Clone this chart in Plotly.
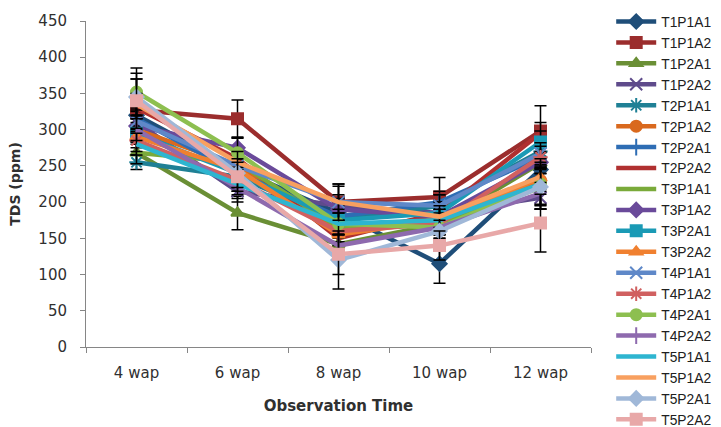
import plotly.graph_objects as go

categories = ["4 wap", "6 wap", "8 wap", "10 wap", "12 wap"]

series_names = ["T1P1A1", "T1P1A2", "T1P2A1", "T1P2A2", "T2P1A1", "T2P1A2", "T2P2A1", "T2P2A2",
                "T3P1A1", "T3P1A2", "T3P2A1", "T3P2A2", "T4P1A1", "T4P1A2", "T4P2A1", "T4P2A2",
                "T5P1A1", "T5P1A2", "T5P2A1", "T5P2A2"]

T1P1A1 = [320, 245, 185, 115, 245]
T1P1A2 = [327, 315, 200, 207, 298]
T1P2A1 = [268, 185, 142, 170, 254]
T1P2A2 = [310, 215, 195, 185, 206]
T2P1A1 = [255, 235, 175, 195, 270]
T2P1A2 = [300, 250, 160, 180, 230]
T2P2A1 = [315, 240, 180, 200, 262]
T2P2A2 = [330, 260, 150, 185, 295]
T3P1A1 = [268, 255, 165, 170, 220]
T3P1A2 = [305, 275, 190, 180, 255]
T3P2A1 = [295, 240, 175, 185, 283]
T3P2A2 = [290, 245, 155, 175, 233]
T4P1A1 = [312, 250, 200, 195, 267]
T4P1A2 = [285, 230, 160, 170, 262]
T4P2A1 = [352, 268, 170, 165, 225]
T4P2A2 = [300, 220, 140, 165, 212]
T5P1A1 = [280, 225, 170, 175, 225]
T5P1A2 = [335, 255, 200, 180, 235]
T5P2A1 = [345, 240, 120, 160, 221]
T5P2A2 = [340, 235, 128, 140, 171]

values = [T1P1A1, T1P1A2, T1P2A1, T1P2A2, T2P1A1, T2P1A2, T2P2A1, T2P2A2,
          T3P1A1, T3P1A2, T3P2A1, T3P2A2, T4P1A1, T4P1A2, T4P2A1, T4P2A2,
          T5P1A1, T5P1A2, T5P2A1, T5P2A2]

errors = [
    [20, 15, 15, 27, 15],
    [43, 26, 22, 27, 35],
    [15, 23, 15, 15, 15],
    [15, 15, 15, 15, 15],
    [10, 15, 15, 15, 15],
    [15, 15, 15, 15, 15],
    [15, 15, 15, 15, 15],
    [15, 15, 15, 15, 15],
    [15, 15, 15, 15, 30],
    [15, 15, 15, 15, 15],
    [15, 15, 15, 15, 15],
    [15, 15, 15, 15, 15],
    [15, 15, 25, 15, 15],
    [15, 15, 15, 15, 15],
    [33, 20, 15, 15, 35],
    [15, 15, 15, 15, 15],
    [15, 15, 15, 15, 30],
    [15, 15, 25, 15, 15],
    [25, 20, 40, 15, 25],
    [38, 20, 28, 20, 40],
]

colors = ["#1F4E79", "#9B2D2D", "#6A8F35", "#5F4B8B", "#1F8095", "#D9691E", "#2E6DB4", "#B03030",
          "#7AAA3A", "#6A4A9A", "#1A9AB5", "#F08030", "#5F88C8", "#D06060", "#8DBF50", "#8E6AAE",
          "#2EB5D0", "#F8A060", "#A0B8D8", "#E8A8A8"]

symbols = ["diamond", "square", "triangle-up", "x-thin", "asterisk", "circle", "line-ns", None,
           None, "diamond", "square", "triangle-up", "x-thin", "asterisk", "circle", "line-ns",
           None, None, "diamond", "square"]

fig = go.Figure()
for name, vals, err, col, sym in zip(series_names, values, errors, colors, symbols):
    marker = dict(color=col, size=11, line=dict(color=col, width=2))
    if sym is None:
        mode = "lines"
    else:
        mode = "lines+markers"
        marker["symbol"] = sym
        if sym in ("x-thin", "asterisk", "line-ns"):
            marker["size"] = 12
            marker["line"] = dict(color=col, width=2)
    fig.add_trace(go.Scatter(
        x=categories, y=vals, name=name, mode=mode,
        line=dict(color=col, width=4.5),
        marker=marker,
        error_y=dict(type="data", array=err, visible=True, color="black", thickness=1.5, width=6),
    ))

fig.update_layout(
    width=721, height=427,
    margin=dict(l=86, r=130, t=21, b=80, autoexpand=False),
    paper_bgcolor="white", plot_bgcolor="white",
    font=dict(family="DejaVu Sans", size=12, color="#404040"),
    showlegend=True,
    legend=dict(x=1.04, y=1.046, xanchor="left", yanchor="top", maxheight=1000,
                font=dict(family="Liberation Sans", size=13.8, color="#202020"),
                tracegroupgap=0, itemwidth=40, bgcolor="rgba(0,0,0,0)"),
    xaxis=dict(
        type="category", range=[-0.5, 4.5], tickson="boundaries",
        showline=True, linecolor="#868686", linewidth=1,
        ticks="outside", ticklen=5, tickcolor="#868686",
        showgrid=False, zeroline=False, ticklabelstandoff=12,
        tickfont=dict(family="DejaVu Sans", size=15, color="#303030"),
        title=dict(text="<b>Observation Time</b>", font=dict(family="DejaVu Sans", size=15, color="#303030"), standoff=19),
    ),
    yaxis=dict(
        range=[0, 450], dtick=50, tick0=0,
        showline=True, linecolor="#868686", linewidth=1,
        ticks="outside", ticklen=5, tickcolor="#868686",
        showgrid=False, zeroline=False, ticklabelstandoff=10,
        tickfont=dict(family="DejaVu Sans", size=15, color="#303030"),
        title=dict(text="<b>TDS (ppm)</b>", font=dict(family="DejaVu Sans", size=14, color="#303030"), standoff=14),
    ),
)

fig.write_html("out.html", config={"displayModeBar": False},
               post_script="document.body.style.margin='0';")
